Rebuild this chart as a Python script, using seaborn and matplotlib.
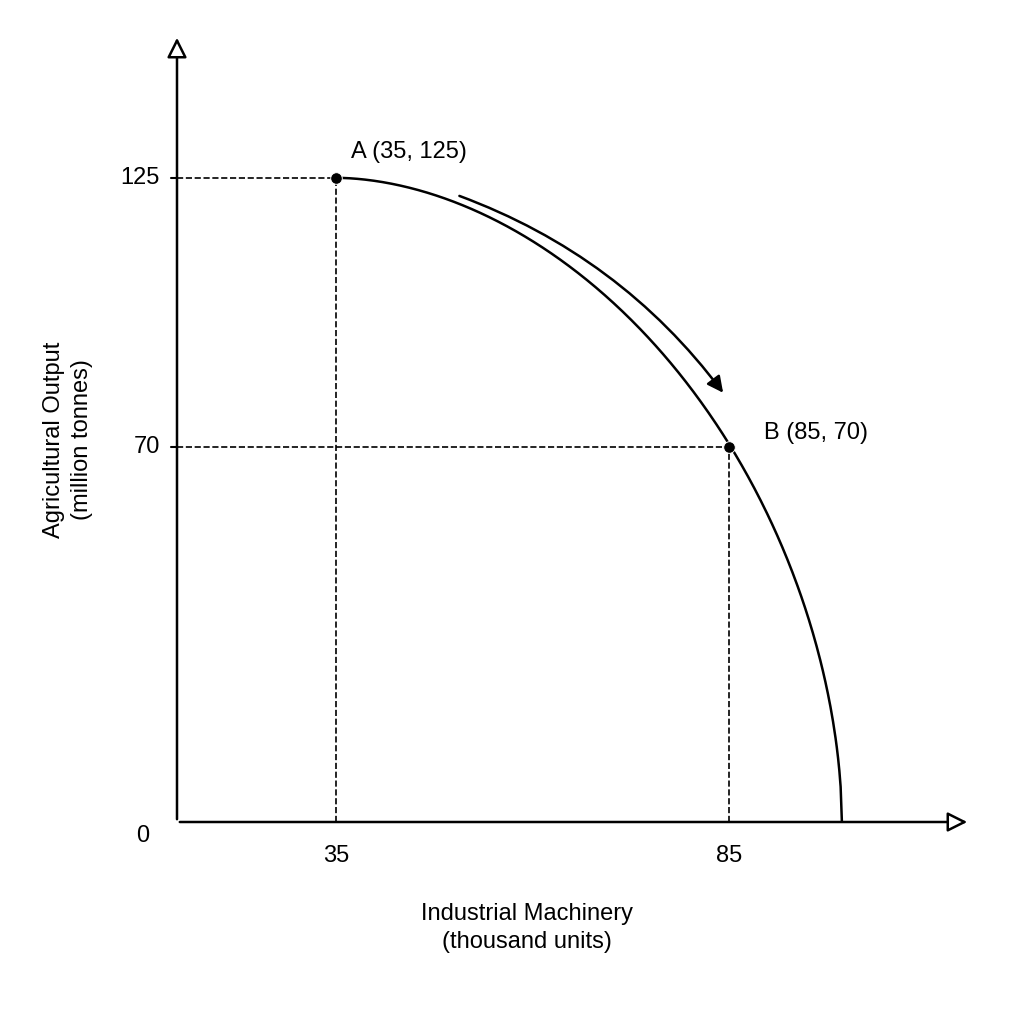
import numpy as np
import matplotlib
matplotlib.use("Agg")
import matplotlib.pyplot as plt
import seaborn as sns

sns.set_theme(style="white")
plt.rcParams['font.family'] = ['Liberation Sans', 'DejaVu Sans']
plt.rcParams['text.color'] = 'black'

point_labels = ["A (35, 125)", "B (85, 70)"]
point_x = [35, 85]
point_y = [125, 70]
x_ticks = [35, 85]
y_ticks = [70, 125]
x_end = 99.4          # frontier meets the x axis
y_floor = -6.7        # axis baseline value
xlim = (14.8, 115.7)
ylim = (y_floor, 154.2)

# frontier shape: superellipse through A (top) and B
a = x_end - point_x[0]
b = point_y[0] - y_floor
p = 1.85
t = np.linspace(0, 1, 400)
cx = point_x[0] + a * t
cy = y_floor + b * (1 - t ** p) ** (1 / p)

fig = plt.figure(figsize=(10.24, 10.24), dpi=100)
ax = fig.add_axes([177/1024, 1-822/1024, (970-177)/1024, (822-35)/1024])
ax.set_xlim(*xlim); ax.set_ylim(*ylim)
for s in ax.spines.values():
    s.set_visible(False)
ax.set_xticks([]); ax.set_yticks([])

sns.lineplot(x=cx, y=cy, ax=ax, color="black", lw=1.8, sort=False, estimator=None)

ax.annotate("", xy=(xlim[1], y_floor), xytext=(xlim[0], y_floor),
            arrowprops=dict(arrowstyle="-|>", lw=1.8, color="black", fc="white", mutation_scale=30),
            annotation_clip=False)
ax.annotate("", xy=(xlim[0], ylim[1]), xytext=(xlim[0], y_floor),
            arrowprops=dict(arrowstyle="-|>", lw=1.8, color="black", fc="white", mutation_scale=30),
            annotation_clip=False)

for x, y, lab in zip(point_x, point_y, point_labels):
    ax.plot([xlim[0], x], [y, y], ls="--", color="black", lw=1.2)
    ax.plot([x, x], [y_floor, y], ls="--", color="black", lw=1.2)
    ax.plot([xlim[0]-0.8, xlim[0]], [y, y], color="black", lw=1.5, clip_on=False)
sns.scatterplot(x=point_x, y=point_y, ax=ax, color="black", s=70, zorder=5)
ax.text(point_x[0]+2, point_y[0]+3.0, point_labels[0], fontsize=17, va="bottom", ha="left")
ax.text(point_x[1]+4.5, point_y[1]+0.5, point_labels[1], fontsize=17, va="bottom", ha="left")

for v in x_ticks:
    ax.text(v, y_floor-7, str(v), ha="center", va="center", fontsize=17)
for v in y_ticks:
    ax.text(xlim[0]-2.2, v, str(v), ha="right", va="center", fontsize=17)
ax.text(xlim[0]-3.5, y_floor-2.8, "0", ha="right", va="center", fontsize=17)

ax.annotate("", xy=(84.5, 80.6), xytext=(50.4, 121.5),
            arrowprops=dict(arrowstyle="-|>", lw=1.8, color="black", mutation_scale=24,
                            connectionstyle="arc3,rad=-0.15"))

fig.text(527/1024, 1-928/1024, "Industrial Machinery\n(thousand units)", ha="center", va="center",
         fontsize=17, linespacing=1.3)
fig.text(68/1024, 1-440/1024, "Agricultural Output\n(million tonnes)", ha="center", va="center",
         rotation=90, fontsize=17, linespacing=1.3)

fig.savefig("out.png", dpi=100, facecolor="white")
